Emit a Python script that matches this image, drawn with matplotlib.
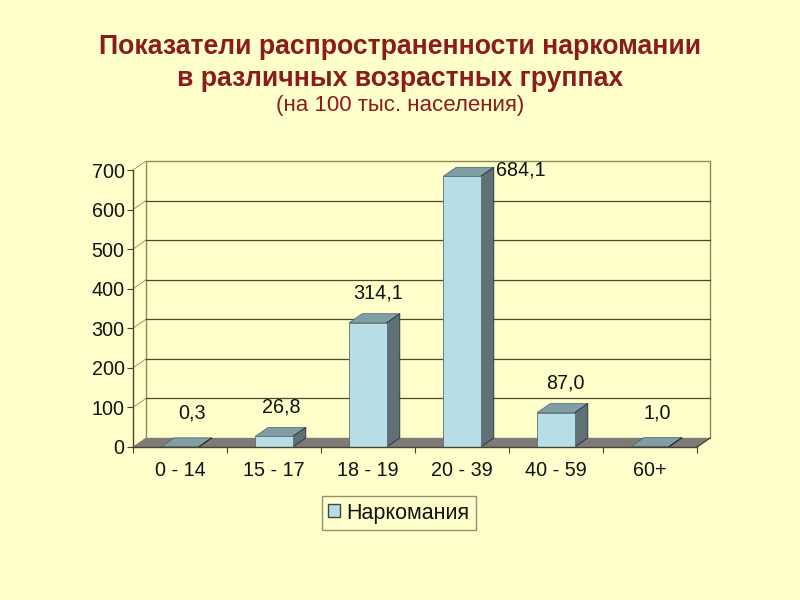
import matplotlib
matplotlib.use("Agg")
import matplotlib.pyplot as plt
from matplotlib.patches import Polygon, Patch

plt.rcParams['font.family'] = ['Liberation Sans', 'DejaVu Sans']

# Data
groups = ["0 - 14", "15 - 17", "18 - 19", "20 - 39", "40 - 59", "60+"]
values = [0.3, 26.8, 314.1, 684.1, 87.0, 1.0]
value_labels = ["0,3", "26,8", "314,1", "684,1", "87,0", "1,0"]
y_ticks = [0, 100, 200, 300, 400, 500, 600, 700]
legend_name = "Наркомания"

# label shift from the bar top, in pixels
label_shift = [(12, 34), (7, 29), (10, 30), (59, 6), (9, 30), (7, 34)]

BG = "#FFFFCC"
FRONT = "#B7DDE6"
TOP = "#7F9EA5"
SIDE = "#5F7076"
FLOOR = "#7E7A78"
GRID = "#4A4A2A"
WALL = "#8C8C5A"

fig = plt.figure(figsize=(8, 6), dpi=100, facecolor=BG)
ax = fig.add_axes([133 / 800, 1 - 447 / 600, 564 / 800, 277 / 600])
ax.set_facecolor("none")
ax.set_xlim(0, 6)
ax.set_ylim(0, 700)

# depth of the fake 3d, in data units
dx = 13 / 94
dy = 9 / 277 * 700
bar_w = 0.4


def poly(pts, **kw):
    ax.add_patch(Polygon(pts, closed=True, clip_on=False, **kw))


# back wall and floor
poly([(dx, dy), (6 + dx, dy), (6 + dx, 700 + dy), (dx, 700 + dy)],
     facecolor=BG, edgecolor=WALL, lw=1.0, zorder=1)
poly([(0, 0), (6, 0), (6 + dx, dy), (dx, dy)], facecolor=FLOOR, edgecolor="none", zorder=2)
ax.plot([6, 6 + dx], [0, dy], color=GRID, lw=1.0, clip_on=False, zorder=2)

for t in y_ticks:
    ax.plot([0, dx], [t, t + dy], color=WALL, lw=0.6, clip_on=False, zorder=1.5)
    if 0 < t < 700:
        ax.plot([dx, 6 + dx], [t + dy, t + dy], color=GRID, lw=0.9, clip_on=False, zorder=1.5)

# bars
for i, v in enumerate(values):
    x0 = i + 0.5 - bar_w / 2
    x1 = i + 0.5 + bar_w / 2
    ax.bar(i + 0.5, v, width=bar_w, color=FRONT, edgecolor="#5A6E72", linewidth=0.6, zorder=4)
    poly([(x0, v), (x1, v), (x1 + dx, v + dy), (x0 + dx, v + dy)],
         facecolor=TOP, edgecolor="#4F6064", lw=0.5, zorder=3)
    poly([(x1, 0), (x1 + dx, dy), (x1 + dx, v + dy), (x1, v)],
         facecolor=SIDE, edgecolor="#26302F", lw=0.6, zorder=3)
    ax.annotate(value_labels[i], xy=(i + 0.5, v), xytext=label_shift[i],
                textcoords="offset pixels", ha="center", va="center",
                fontsize=14.2, color="#111111", zorder=6, annotation_clip=False)

# axes
for s in ["top", "right"]:
    ax.spines[s].set_visible(False)
for s in ["left", "bottom"]:
    ax.spines[s].set_color("#444430")
    ax.spines[s].set_linewidth(1.0)
    ax.spines[s].set_zorder(5)
ax.set_yticks(y_ticks)
ax.set_xticks(range(7))
ax.set_xticklabels([])
ax.set_xticks([i + 0.5 for i in range(6)], minor=True)
ax.set_xticklabels(groups, minor=True)
ax.tick_params(axis="x", which="major", length=4, width=0.8, color="#444430")
ax.tick_params(axis="x", which="minor", length=0, pad=10, labelsize=14.2, labelcolor="#111111")
ax.tick_params(axis="y", length=4, width=0.8, color="#444430", pad=2, labelsize=14.2, labelcolor="#111111")

# title
fig.text(0.5, 1 - 47 / 600, "Показатели распространенности наркомании", ha="center", va="center",
         fontsize=19.2, fontweight="bold", color="#8B1C1C")
fig.text(0.5, 1 - 79 / 600, "в различных возрастных группах", ha="center", va="center",
         fontsize=19.2, fontweight="bold", color="#8B1C1C")
fig.text(0.5, 1 - 106 / 600, "(на 100 тыс. населения)", ha="center", va="center",
         fontsize=16, color="#8B1C1C")

# legend
leg = fig.legend(handles=[Patch(facecolor=FRONT, edgecolor="#444444", label=legend_name)],
                 loc="center", bbox_to_anchor=(399 / 800, 1 - 513 / 600), fontsize=15.5,
                 frameon=True, fancybox=False, facecolor=BG, edgecolor="#77775A",
                 handlelength=0.56, handleheight=0.56, borderpad=0.3, handletextpad=0.3,
                 borderaxespad=0, labelcolor="#111111")
leg.get_frame().set_linewidth(1.0)

fig.savefig("out.png", dpi=100, facecolor=BG)
